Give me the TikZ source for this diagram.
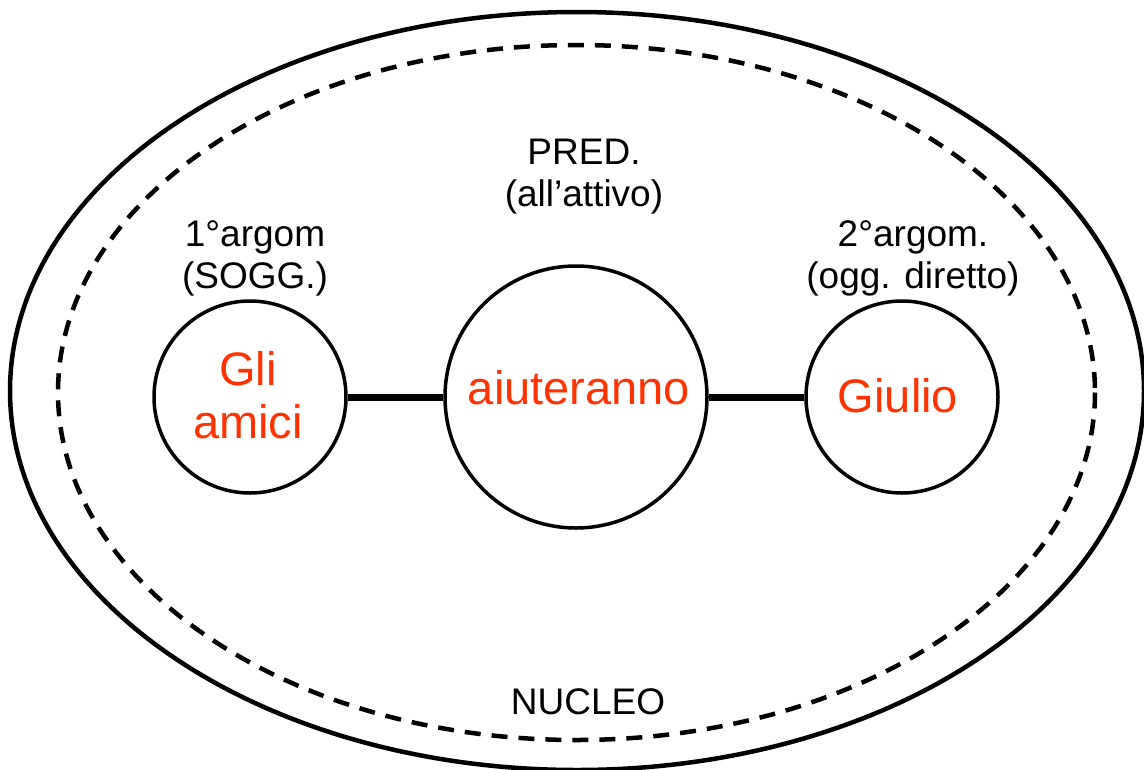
\documentclass[tikz,border=0pt]{standalone}
\usepackage{fontspec}
\setmainfont{Liberation Sans}
\definecolor{wordred}{RGB}{255,51,0}
\begin{document}
\begin{tikzpicture}[x=1pt,y=-1pt,
  blob/.style={circle,draw=black,line width=3.5pt,inner sep=0pt},
  word/.style={text=wordred,font=\fontsize{47}{53}\selectfont,align=center},
  tag/.style={text=black,font=\fontsize{37}{42}\selectfont,align=center},
  link/.style={line width=7pt}]
\useasboundingbox (0,0) rectangle (1144,769);
\draw[line width=4.5pt] (577,391) ellipse [x radius=567, y radius=379];
\draw[line width=4.5pt,dash pattern=on 16pt off 11pt] (576.5,392.5) ellipse [x radius=518.5, y radius=347.5];
\node[blob,minimum size=192pt] (s) at (250,397) {};
\node[blob,minimum size=262pt] (p) at (576,397) {};
\node[blob,minimum size=192pt] (o) at (902,397) {};
\node[word] (st) at (248,395) {Gli\\amici};
\node[word] (pt) at (579,388) {aiuteranno};
\node[word] (ot) at (898,396) {Giulio};
\draw[link] (s.east) -- (p.west);
\draw[link] (p.east) -- (o.west);
\node[tag] (pl) at (584,177) {PRED.\\(all’attivo)};
\node[tag] (sl) at (255,258) {1°argom\\(SOGG.)};
\node[tag] (ol) at (913,258) {2°argom.\\(ogg. diretto)};
\node[tag] (nl) at (588,702) {NUCLEO};
\end{tikzpicture}
\end{document}
